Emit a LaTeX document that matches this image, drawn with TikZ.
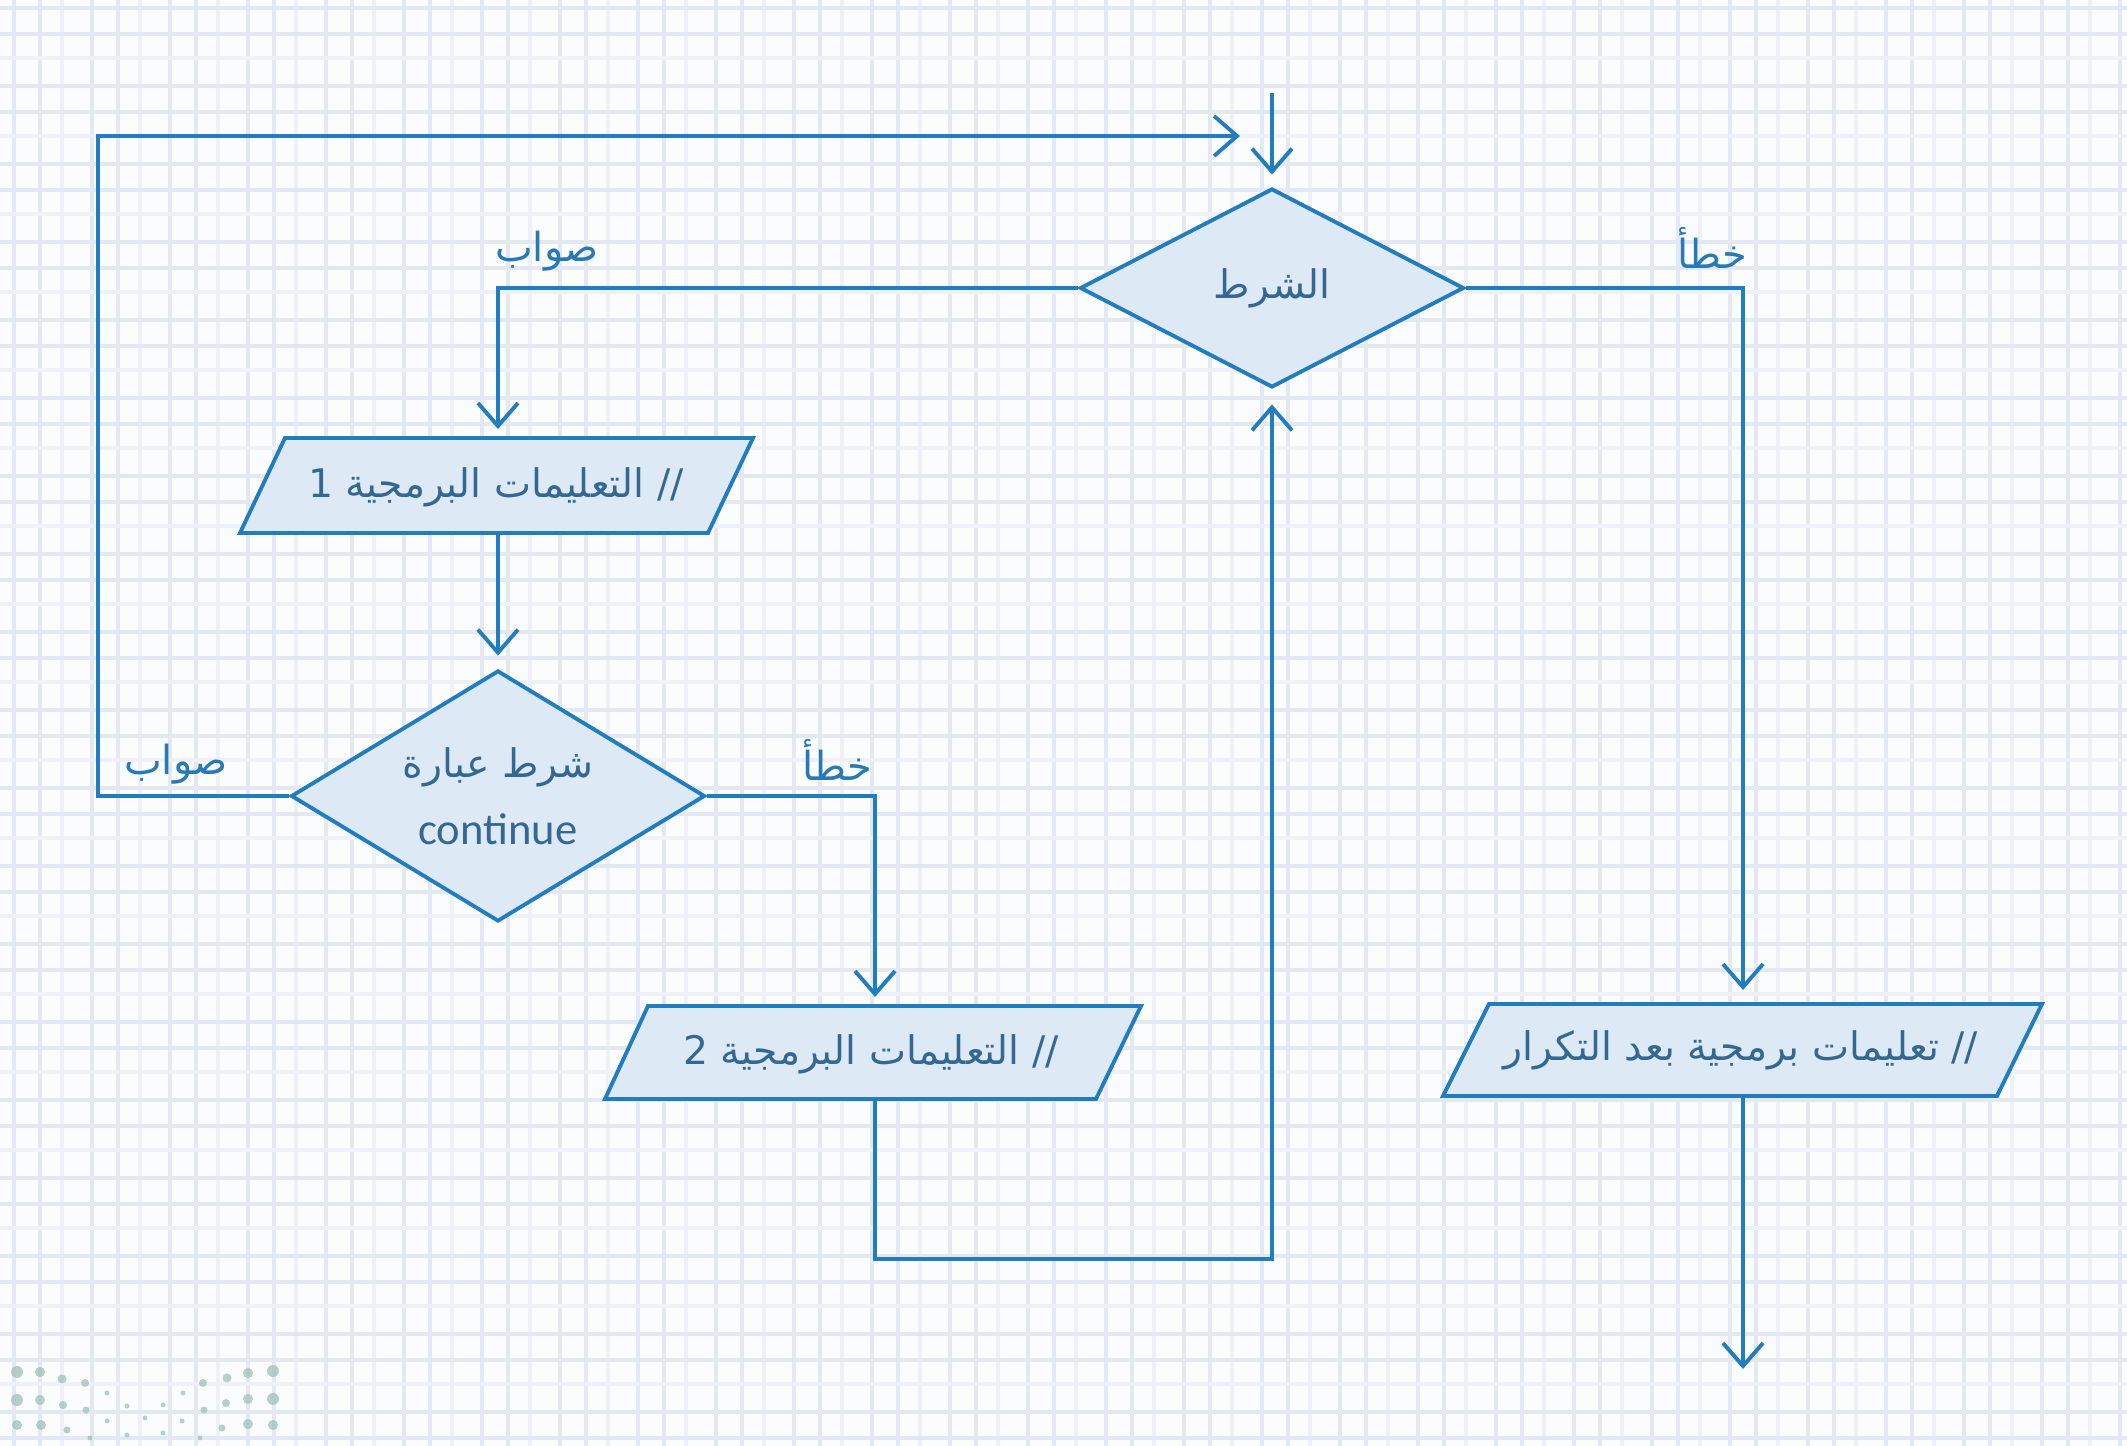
\documentclass[tikz,border=0pt]{standalone}
\usepackage{fontspec}
\setmainfont{Carlito}
\newfontfamily\arabicfont[Script=Arabic]{DejaVu Sans}
\newcommand\myLatin{\fontsize{12.7}{15}\rmfamily}
\TeXXeTstate=1
\usetikzlibrary{shapes.geometric,arrows.meta}
\definecolor{lineblue}{RGB}{34,125,190}
\definecolor{shapefill}{RGB}{222,233,246}
\definecolor{shapetext}{RGB}{52,104,146}
\definecolor{labeltext}{RGB}{40,122,182}
\definecolor{gridline}{RGB}{228,232,240}
\definecolor{gridfaint}{RGB}{238,241,247}
\definecolor{paper}{RGB}{251,252,254}
\definecolor{dotcol}{RGB}{160,192,186}
\tikzset{
  flow/.style={draw=lineblue, line width=1.1pt},
  arr/.style={flow, -{Straight Barb[length=2.3mm,width=4mm,line width=1.1pt]}},
  cond/.style={diamond, draw=lineblue, fill=shapefill, line width=1.1pt, inner sep=0pt},
  iobox/.style={draw=lineblue, fill=shapefill, line width=1.1pt, line join=miter},
  intext/.style={text=shapetext, font=\fontsize{11.2}{15}\arabicfont, inner sep=0pt, align=center},
  lbl/.style={text=labeltext, font=\fontsize{11.4}{14}\arabicfont, inner sep=0pt},
  gA/.style={draw=gridline, line width=0.45mm},
  gB/.style={draw=gridfaint, line width=0.35mm},
  dot/.style={fill=dotcol, draw=none, opacity=0.75}
}
\begin{document}
\begin{tikzpicture}[x=0.1mm,y=-0.1mm]
\useasboundingbox (0,0) rectangle (2127,1446);
% paper and grid
\fill[paper] (0,0) rectangle (2127,1446);
\foreach \i in {0,...,27} {
  \draw[gB] ({\i*78+62},0) -- ({\i*78+62},1446);
  \draw[gA] ({\i*78+14},0) -- ({\i*78+14},1446);
  \draw[gA] ({\i*78+40},0) -- ({\i*78+40},1446);
}
\foreach \i in {0,...,18} {
  \draw[gB] (0,{\i*78+58}) -- (2127,{\i*78+58});
  \draw[gA] (0,{\i*78+8}) -- (2127,{\i*78+8});
  \draw[gA] (0,{\i*78+34}) -- (2127,{\i*78+34});
}
% logo dots
\foreach \dx/\dy/\r in {17/1372/6,40/1372/5,62/1379/4.5,85/1383/4,203/1383/4,227/1378/4.5,248/1373/5,273/1371/6,
  17/1400/6,40/1400/5,63/1405/4,86/1410/3.5,107/1393/2.5,127/1406/2.5,163/1405/2.5,183/1393/2.5,204/1410/3.5,226/1403/4,248/1399/5,273/1399/6,
  17/1425/5,41/1425/5,67/1430/3.5,90/1438/2.5,107/1421/2.5,127/1435/2.5,145/1418/2.5,163/1433/2.5,182/1421/2.5,200/1438/2.5,222/1428/3.5,248/1424/5,273/1425/5}
  {\fill[dot] (\dx,\dy) circle[radius=\r];}

% main condition diamond
\node[cond, minimum width=38.4mm, minimum height=19.9mm] (d1) at (1272,288) {};
\node[intext] (d1t) at (d1.center) {\beginR الشرط\endR};

% continue condition diamond
\node[cond, minimum width=41.4mm, minimum height=25.1mm] (d2) at (498,796) {};
\node[intext] (d2t) at (d2.center) {\beginR شرط عبارة\endR\\[4pt]{\myLatin continue}};

% parallelogram 1
\draw[iobox] (240,533) -- (285,438) -- (753,438) -- (708,533) -- cycle;
\coordinate (p1n) at (498,438);
\coordinate (p1s) at (498,533);
\node[intext] (p1) at (496,487) {\beginR // التعليمات البرمجية 1\endR};

% parallelogram 2
\draw[iobox] (605,1099) -- (648,1006) -- (1141,1006) -- (1096,1099) -- cycle;
\coordinate (p2n) at (875,1006);
\coordinate (p2s) at (875,1099);
\node[intext] (p2) at (871,1054) {\beginR // التعليمات البرمجية 2\endR};

% parallelogram 3
\draw[iobox] (1443,1096) -- (1489,1004) -- (2042,1004) -- (1997,1096) -- cycle;
\coordinate (p3n) at (1743,1004);
\coordinate (p3s) at (1743,1096);
\node[intext] (p3) at (1741,1050) {\beginR // تعليمات برمجية بعد التكرار\endR};

% free ends
\coordinate (start) at (1272,93);
\coordinate (loopend) at (1240,136);
\coordinate (finish) at (1743,1369);

% connectors
\draw[arr, shorten >=1.2mm] (start) -- (d1.north);
\draw[arr, shorten >=0.9mm] (d1.west) -| (p1n);
\draw[arr, shorten >=1.3mm] (p1s) -- (d2.north);
\draw[arr] (d2.west) -- (98,796) |- (loopend);
\draw[arr, shorten >=0.9mm] (d2.east) -| (p2n);
\draw[arr, shorten >=1.5mm] (p2s) -- (875,1259) -| (d1.south);
\draw[arr, shorten >=1.4mm] (d1.east) -| (p3n);
\draw[arr] (p3s) -- (finish);

% branch labels
\node[lbl] (t1) at (547,251) {\beginR صواب\endR};
\node[lbl] (f1) at (1712,248) {\beginR خطأ\endR};
\node[lbl] (t2) at (176,764) {\beginR صواب\endR};
\node[lbl] (f2) at (837,760) {\beginR خطأ\endR};
\end{tikzpicture}
\end{document}
